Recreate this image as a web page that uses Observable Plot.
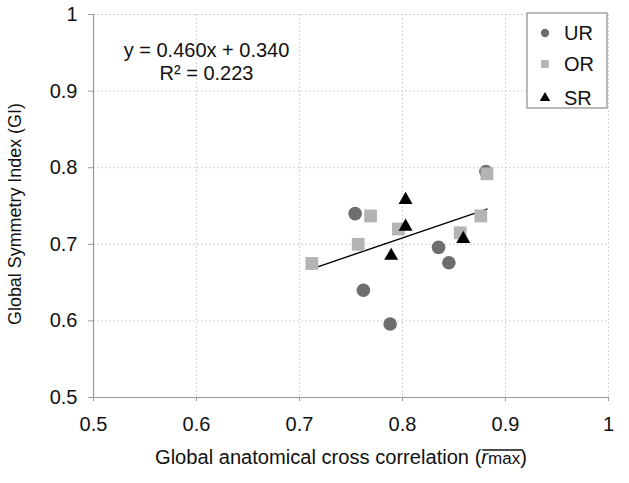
<!DOCTYPE html>
<html>
<head>
<meta charset="utf-8">
<script src="https://cdn.jsdelivr.net/npm/d3@7"></script>
<script src="https://cdn.jsdelivr.net/npm/@observablehq/plot@0.6"></script>
<style>
  html, body { margin: 0; padding: 0; background: #fff; }
  #chart { width: 629px; height: 483px; }
</style>
</head>
<body>
<div id="chart"></div>
<script>
// ---- data ----
const urX = [0.754, 0.762, 0.788, 0.835, 0.845, 0.881];
const urY = [0.740, 0.640, 0.596, 0.696, 0.676, 0.795];
const orX = [0.712, 0.757, 0.769, 0.796, 0.856, 0.876, 0.882];
const orY = [0.675, 0.700, 0.737, 0.720, 0.715, 0.737, 0.792];
const srX = [0.803, 0.803, 0.789, 0.859];
const srY = [0.758, 0.723, 0.685, 0.707];
const trendX = [0.712, 0.882];
const trendY = [0.668, 0.746];
const xTicks = [0.5, 0.6, 0.7, 0.8, 0.9, 1];
const yTicks = [0.5, 0.6, 0.7, 0.8, 0.9, 1];
const xTickLabels = ["0.5", "0.6", "0.7", "0.8", "0.9", "1"];
const yTickLabels = ["0.5", "0.6", "0.7", "0.8", "0.9", "1"];
const seriesNames = ["UR", "OR", "SR"];
const seriesColors = ["#6e6e6e", "#b4b4b4", "#000000"];
const seriesSymbols = ["circle", "square", "triangle"];
const equationLines = ["y = 0.460x + 0.340", "R² = 0.223"];

const font = "'Liberation Sans', Arial, Helvetica, sans-serif";
const ur = urX.map((x, i) => ({x, y: urY[i]}));
const orr = orX.map((x, i) => ({x, y: orY[i]}));
const sr = srX.map((x, i) => ({x, y: srY[i]}));
const trend = trendX.map((x, i) => ({x, y: trendY[i]}));

const plot = Plot.plot({
  width: 629,
  height: 483,
  marginLeft: 93,
  marginRight: 21,
  marginTop: 14,
  marginBottom: 86,
  style: {fontFamily: font, fontSize: "20px", color: "#111", background: "#fff"},
  x: {domain: [0.5, 1]},
  y: {domain: [0.5, 1]},
  marks: [
    Plot.gridX(xTicks.slice(1), {stroke: "#d2d2d2", strokeOpacity: 1, strokeDasharray: "2,2"}),
    Plot.gridY(yTicks.slice(1), {stroke: "#d2d2d2", strokeOpacity: 1, strokeDasharray: "2,2"}),
    Plot.ruleX([0.5], {stroke: "#9a9a9a", strokeWidth: 1.2}),
    Plot.ruleY([0.5], {stroke: "#9a9a9a", strokeWidth: 1.2}),
    Plot.axisX(xTicks, {tickSize: 4, tickPadding: 15, stroke: "#9a9a9a",
      tickFormat: (d, i) => xTickLabels[i], label: null, fontSize: 20, fill: "#111"}),
    Plot.axisY(yTicks, {tickSize: 5, tickPadding: 11, stroke: "#9a9a9a",
      tickFormat: (d, i) => yTickLabels[i], label: null, fontSize: 20, fill: "#111"}),
    Plot.line(trend, {x: "x", y: "y", stroke: "#000", strokeWidth: 1.4}),
    Plot.dot(ur, {x: "x", y: "y", symbol: seriesSymbols[0], fill: seriesColors[0], r: 6.8}),
    Plot.dot(orr, {x: "x", y: "y", symbol: seriesSymbols[1], fill: seriesColors[1], r: 7.2}),
    Plot.dot(sr, {x: "x", y: "y", symbol: seriesSymbols[2], fill: seriesColors[2], r: 5.2}),
    Plot.text([equationLines.join("\n")], {frameAnchor: "top-left", dx: 113, dy: 26,
      textAnchor: "middle", lineHeight: 1.15, fontSize: 20, fill: "#111"})
  ]
});
document.getElementById("chart").appendChild(plot);

const svg = d3.select(plot);
// scale a text element's font-size so its rendered width matches a target
function fit(sel, target) {
  const w = sel.node().getComputedTextLength();
  const fs = parseFloat(sel.attr("font-size"));
  if (w > 0) sel.attr("font-size", (fs * target / w).toFixed(2));
}

const yl = svg.append("text")
  .attr("transform", "translate(21,214) rotate(-90)")
  .attr("text-anchor", "middle")
  .attr("font-family", font).attr("font-size", 17).attr("fill", "#111")
  .text("Global Symmetry Index (GI)");
fit(yl, 222);

const xl = svg.append("text")
  .attr("x", 341).attr("y", 464)
  .attr("text-anchor", "middle")
  .attr("font-family", font).attr("font-size", 19.5).attr("fill", "#111");
const prefix = "Global anatomical cross correlation (";
xl.append("tspan").text(prefix);
xl.append("tspan").attr("font-style", "italic").text("r");
xl.append("tspan").attr("font-size", "0.85em").text("max");
xl.append("tspan").text(")");
fit(xl, 372);
{
  const n = xl.node();
  const i0 = prefix.length, i1 = prefix.length + 3;
  const x0 = n.getStartPositionOfChar(i0).x;
  const x1 = n.getEndPositionOfChar(i1).x;
  svg.append("line").attr("x1", x0 + 1).attr("x2", x1 + 1)
    .attr("y1", 450).attr("y2", 450).attr("stroke", "#111").attr("stroke-width", 1.3);
}

const lg = svg.append("g");
lg.append("rect").attr("x", 527).attr("y", 13).attr("width", 80).attr("height", 95)
  .attr("fill", "#fff").attr("stroke", "#a8a8a8").attr("stroke-width", 1.6);
const symMap = {circle: d3.symbolCircle, square: d3.symbolSquare, triangle: d3.symbolTriangle};
const symSize = [55, 60, 48];
const legendY = [33, 64, 98];
seriesNames.forEach((name, i) => {
  const cy = legendY[i];
  lg.append("path")
    .attr("transform", `translate(545,${cy})`)
    .attr("d", d3.symbol(symMap[seriesSymbols[i]], symSize[i])())
    .attr("fill", seriesColors[i]);
  lg.append("text").attr("x", 564).attr("y", cy).attr("dy", "0.36em")
    .attr("text-anchor", "start")
    .attr("font-family", font).attr("font-size", 20).attr("fill", "#111").text(name);
});
</script>
</body>
</html>
